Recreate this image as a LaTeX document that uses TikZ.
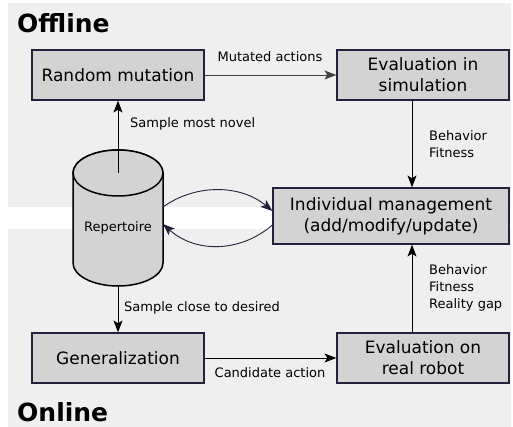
\documentclass[tikz,border=0pt]{standalone}
\usepackage{fontspec}
\setmainfont{DejaVu Sans}
\usetikzlibrary{arrows.meta}
\definecolor{bgc}{HTML}{EFEFEF}
\definecolor{boxc}{HTML}{D3D3D3}
\definecolor{navy}{HTML}{22223F}
\begin{document}
\begin{tikzpicture}[x=1pt,y=-1pt,
  box/.style={draw=navy, line width=1.2pt, fill=boxc, minimum width=172pt, minimum height=50pt, align=center, font=\fontsize{17}{21}\selectfont, inner sep=0pt},
  lbl/.style={font=\fontsize{13}{17}\selectfont, inner sep=0pt},
  ttl/.style={font=\bfseries\fontsize{25}{30}\selectfont, anchor=base west, inner sep=0pt},
  arr/.style={-{Stealth[length=12pt,width=9pt,inset=3pt]}, line width=0.9pt},
  cyl/.style={fill=boxc, draw=black, line width=1.5pt}]
\useasboundingbox (0,0) rectangle (513,427);
\fill[bgc] (8,3) rectangle (511,207);
\fill[bgc] (8,229) rectangle (511,427);

\node[ttl] (off) at (17,33) {Offline};
\node[ttl] (on) at (17,421) {Online};

\node[box] (rm) at (118,75) {Random mutation};
\node[box] (es) at (423,75) {Evaluation in\\simulation};
\node[box, minimum width=236pt, minimum height=56pt] (im) at (391,216) {Individual management\\(add/modify/update)};
\node[box] (er) at (423,358) {Evaluation on\\real robot};
\node[box] (ge) at (118,358) {Generalization};

% cylinder
\path[cyl] (73,173) -- (73,263) arc[start angle=180, end angle=360, x radius=45pt, y radius=23pt] -- (163,173) arc[start angle=0, end angle=180, x radius=45pt, y radius=23pt] -- cycle;
\path[cyl] (118,173) ellipse [x radius=45pt, y radius=23pt];
\coordinate (cyltop) at (118,173);
\coordinate (cylbot) at (118,287);
\coordinate (cylr1) at (163,207);
\coordinate (cylr2) at (163,224);
\node[lbl] (rep) at (118,228) {Repertoire};

\draw[arr] (cyltop) -- (rm.south);
\draw[arr] (cylbot) -- (ge.north);
\draw[arr, draw=black!75] (rm.east) -- (es.west);
\draw[arr] (ge.east) -- (er.west);
\draw[arr] ([xshift=-11pt]es.south) -- ([xshift=-11pt]es.south |- im.north);
\draw[arr] ([xshift=-11pt]er.north) -- ([xshift=-11pt]er.north |- im.south);

\draw[arr, draw=navy] (cylr1) .. controls (195,184) and (240,184) .. ([yshift=5pt]im.west);
\draw[arr, draw=navy] ([yshift=-9pt]im.west) .. controls (240,253) and (195,253) .. (cylr2);

\node[lbl] (lmut) at (270,57) {Mutated actions};
\node[lbl, anchor=west] (lnov) at (130,124) {Sample most novel};
\node[lbl, anchor=west, align=left] (lbf) at (429,144) {Behavior\\Fitness};
\node[lbl, anchor=west, align=left] (lbfr) at (429,288) {Behavior\\Fitness\\Reality gap};
\node[lbl, anchor=west] (lclose) at (124,308) {Sample close to desired};
\node[lbl] (lcand) at (270,373) {Candidate action};
\end{tikzpicture}
\end{document}
